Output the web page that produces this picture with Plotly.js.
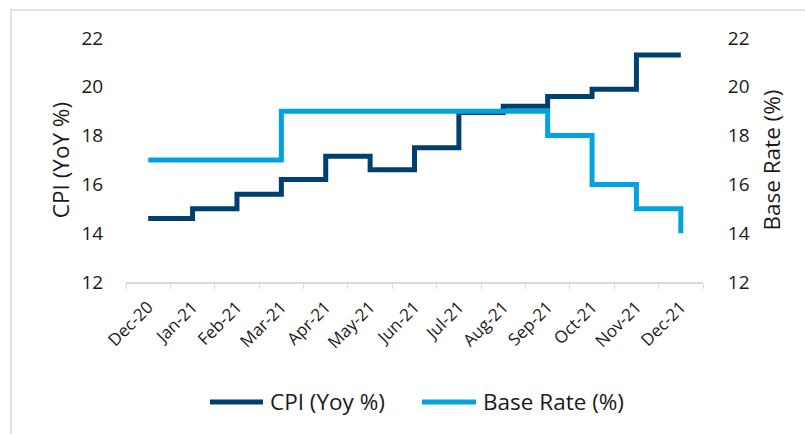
<!DOCTYPE html>
<html>
<head>
<meta charset="utf-8">
<script src="https://cdn.plot.ly/plotly-3.0.1.min.js"></script>
<style>
html,body{margin:0;padding:0;background:#fff;}
#chart{width:805px;height:434px;}
</style>
</head>
<body>
<div id="chart"></div>
<script>
var months = ["Dec-20","Jan-21","Feb-21","Mar-21","Apr-21","May-21","Jun-21","Jul-21","Aug-21","Sep-21","Oct-21","Nov-21","Dec-21"];
var cpi = [14.6, 15.0, 15.6, 16.2, 17.15, 16.6, 17.5, 18.95, 19.2, 19.6, 19.9, 21.3, 21.3];
var baseRate = [17, 17, 17, 19, 19, 19, 19, 19, 19, 18, 16, 15, 14];
var yTicks = [12, 14, 16, 18, 20, 22];
var seriesNames = ["CPI (Yoy %)", "Base Rate (%)"];
var seriesColors = ["#003f6e", "#00a3e0"];

var fontFam = "'Open Sans', Lato, sans-serif";
var txt = "#1a1a1a";

var traces = [
  {
    x: months, y: cpi, name: seriesNames[0], type: "scatter", mode: "lines",
    line: {shape: "hv", color: seriesColors[0], width: 5},
    yaxis: "y", showlegend: false
  },
  {
    x: months, y: baseRate, name: seriesNames[1], type: "scatter", mode: "lines",
    line: {shape: "hv", color: seriesColors[1], width: 5},
    yaxis: "y2", showlegend: false
  }
];

// legend drawn as shapes + text annotations (paper coordinates)
var legY = -0.4918;
var legItems = [
  {x0: 0.1456, x1: 0.2374, tx: 0.2461},
  {x0: 0.5130, x1: 0.6066, tx: 0.6153}
];
var shapes = [
  {type: "rect", xref: "paper", yref: "paper",
   x0: -0.1993, x1: 1.19, y0: -0.66, y1: 1.1148,
   line: {color: "#d9d9d9", width: 1.5}, fillcolor: "rgba(0,0,0,0)", layer: "below"}
];
var annotations = [];
legItems.forEach(function (it, i) {
  shapes.push({type: "line", xref: "paper", yref: "paper",
    x0: it.x0, x1: it.x1, y0: legY, y1: legY,
    line: {color: seriesColors[i], width: 5}});
  annotations.push({xref: "paper", yref: "paper", x: it.tx, y: legY + 0.004,
    xanchor: "left", yanchor: "middle", showarrow: false, text: seriesNames[i],
    font: {size: 22.5, family: fontFam, color: txt}});
});

var layout = {
  width: 805, height: 434,
  margin: {l: 126, r: 102, t: 38, b: 152},
  paper_bgcolor: "#ffffff", plot_bgcolor: "#ffffff",
  font: {family: fontFam, color: txt, size: 16},
  showlegend: false,
  xaxis: {
    type: "category", range: [-0.5, 12.5],
    tickangle: -45, tickson: "boundaries",
    ticks: "outside", ticklen: 5, tickcolor: "#d9d9d9",
    ticklabelstandoff: 7,
    showline: true, linecolor: "#d9d9d9", linewidth: 1.5,
    showgrid: false, zeroline: false,
    tickfont: {size: 17, family: fontFam, color: txt},
    fixedrange: true
  },
  yaxis: {
    range: [12, 22], tickvals: yTicks,
    showgrid: false, zeroline: false, showline: false,
    ticks: "outside", ticklen: 18, tickcolor: "rgba(0,0,0,0)",
    tickfont: {size: 19, family: fontFam, color: txt},
    title: {text: "CPI (YoY %)", font: {size: 22.5, family: fontFam, color: txt}, standoff: 5}
  },
  yaxis2: {
    range: [12, 22], tickvals: yTicks, overlaying: "y", side: "right",
    showgrid: false, zeroline: false, showline: false,
    ticks: "outside", ticklen: 20, tickcolor: "rgba(0,0,0,0)",
    tickfont: {size: 19, family: fontFam, color: txt},
    title: {text: "Base Rate (%)", font: {size: 22.5, family: fontFam, color: txt}, standoff: 15}
  },
  shapes: shapes,
  annotations: annotations
};

Plotly.newPlot("chart", traces, layout, {displayModeBar: false, staticPlot: true});
</script>
</body>
</html>
